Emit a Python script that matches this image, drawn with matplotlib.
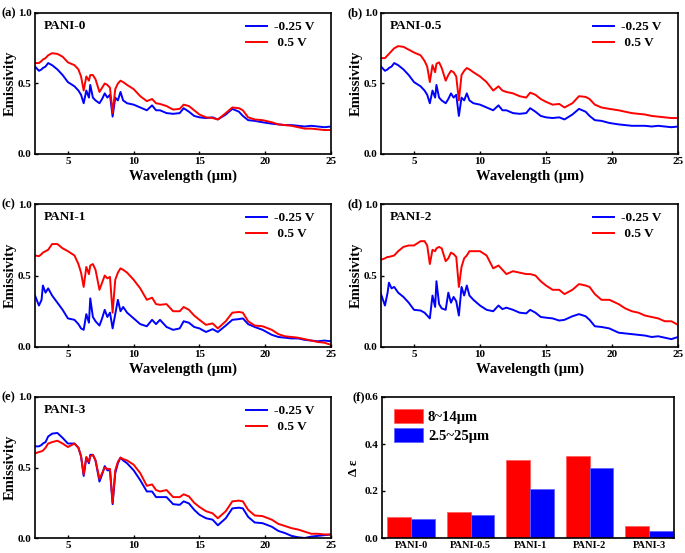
import matplotlib
matplotlib.use("Agg")
import matplotlib.pyplot as plt
import numpy as np

plt.rcParams['font.family'] = ['Liberation Serif', 'DejaVu Serif']
plt.rcParams['font.weight'] = 'bold'
plt.rcParams['axes.labelweight'] = 'bold'

# wavelength grid (um)
wl = [2.5, 2.8, 3.0, 3.1, 3.3, 3.5, 3.8, 4.2, 4.6, 5.0,
      5.5, 5.8, 6.0, 6.2, 6.4, 6.6, 6.7, 6.9, 7.1, 7.4,
      7.6, 7.8, 8.0, 8.2, 8.4, 8.6, 8.8, 9.0, 9.2, 9.5,
      10, 10.5, 11, 11.4, 11.7, 12, 12.5, 13, 13.5, 13.8,
      14.2, 14.6, 15, 15.5, 16, 16.4, 17, 17.5, 18, 18.3,
      18.7, 19.2, 19.8, 20.5, 21, 21.5, 22, 22.5, 23, 23.5,
      24, 24.5, 25]

# PANI-0
pani0_neg = [0.62, 0.59, 0.60, 0.61, 0.62, 0.645, 0.63, 0.60, 0.56, 0.51,
             0.48, 0.45, 0.42, 0.36, 0.45, 0.40, 0.49, 0.40, 0.38, 0.36,
             0.39, 0.43, 0.40, 0.42, 0.265, 0.40, 0.38, 0.44, 0.38, 0.36,
             0.35, 0.33, 0.31, 0.345, 0.31, 0.31, 0.29, 0.285, 0.29, 0.325,
             0.30, 0.27, 0.26, 0.255, 0.26, 0.245, 0.28, 0.32, 0.30, 0.27,
             0.24, 0.235, 0.225, 0.215, 0.21, 0.205, 0.205, 0.20, 0.195, 0.20,
             0.195, 0.19, 0.195]
pani0_pos = [0.645, 0.645, 0.66, 0.67, 0.68, 0.70, 0.715, 0.71, 0.69, 0.65,
             0.63, 0.60, 0.55, 0.45, 0.55, 0.52, 0.56, 0.56, 0.53, 0.44,
             0.47, 0.50, 0.49, 0.47, 0.29, 0.46, 0.50, 0.52, 0.51, 0.49,
             0.46, 0.41, 0.375, 0.39, 0.36, 0.355, 0.34, 0.315, 0.32, 0.35,
             0.34, 0.31, 0.28, 0.26, 0.255, 0.245, 0.29, 0.33, 0.325, 0.31,
             0.26, 0.245, 0.24, 0.225, 0.21, 0.205, 0.20, 0.19, 0.18, 0.18,
             0.175, 0.17, 0.17]

# PANI-0.5
pani05_neg = [0.62, 0.59, 0.60, 0.61, 0.62, 0.645, 0.63, 0.60, 0.56, 0.51,
              0.48, 0.45, 0.42, 0.36, 0.45, 0.40, 0.49, 0.40, 0.38, 0.36,
              0.39, 0.43, 0.40, 0.42, 0.27, 0.40, 0.38, 0.43, 0.38, 0.36,
              0.35, 0.33, 0.31, 0.345, 0.31, 0.31, 0.29, 0.285, 0.29, 0.325,
              0.30, 0.27, 0.26, 0.255, 0.26, 0.245, 0.28, 0.32, 0.30, 0.27,
              0.24, 0.235, 0.22, 0.21, 0.205, 0.20, 0.20, 0.20, 0.195, 0.20,
              0.195, 0.19, 0.195]
pani05_pos = [0.68, 0.68, 0.70, 0.71, 0.73, 0.75, 0.765, 0.76, 0.74, 0.72,
              0.70, 0.66, 0.62, 0.51, 0.63, 0.58, 0.64, 0.65, 0.61, 0.52,
              0.56, 0.59, 0.58, 0.55, 0.38, 0.56, 0.59, 0.61, 0.60, 0.58,
              0.55, 0.51, 0.45, 0.48, 0.45, 0.44, 0.43, 0.41, 0.40, 0.435,
              0.42, 0.39, 0.37, 0.35, 0.355, 0.33, 0.36, 0.41, 0.405, 0.39,
              0.35, 0.33, 0.32, 0.31, 0.30, 0.29, 0.285, 0.28, 0.27, 0.265,
              0.26, 0.255, 0.255]

# PANI-1
pani1_neg = [0.36, 0.29, 0.33, 0.43, 0.38, 0.41, 0.36, 0.31, 0.26, 0.20,
             0.19, 0.16, 0.13, 0.12, 0.23, 0.17, 0.34, 0.21, 0.18, 0.15,
             0.20, 0.26, 0.21, 0.24, 0.13, 0.23, 0.33, 0.25, 0.28, 0.24,
             0.20, 0.16, 0.145, 0.19, 0.16, 0.19, 0.14, 0.12, 0.13, 0.18,
             0.17, 0.14, 0.13, 0.105, 0.125, 0.105, 0.15, 0.19, 0.195, 0.20,
             0.16, 0.14, 0.12, 0.085, 0.07, 0.065, 0.06, 0.06, 0.05, 0.045,
             0.04, 0.045, 0.04]
pani1_pos = [0.64, 0.635, 0.65, 0.66, 0.67, 0.68, 0.72, 0.72, 0.69, 0.67,
             0.64, 0.58, 0.52, 0.42, 0.56, 0.51, 0.57, 0.58, 0.54, 0.40,
             0.45, 0.50, 0.48, 0.49, 0.24, 0.47, 0.52, 0.55, 0.54, 0.52,
             0.47, 0.41, 0.33, 0.345, 0.30, 0.295, 0.30, 0.25, 0.25, 0.28,
             0.26, 0.22, 0.19, 0.155, 0.165, 0.13, 0.18, 0.24, 0.245, 0.24,
             0.18, 0.15, 0.145, 0.12, 0.09, 0.075, 0.07, 0.065, 0.055, 0.045,
             0.035, 0.03, 0.015]

# PANI-2
pani2_neg = [0.37, 0.29, 0.38, 0.45, 0.41, 0.42, 0.38, 0.35, 0.31, 0.26,
             0.255, 0.24, 0.22, 0.20, 0.36, 0.28, 0.46, 0.30, 0.27, 0.26,
             0.38, 0.31, 0.35, 0.32, 0.22, 0.42, 0.36, 0.43, 0.36, 0.33,
             0.29, 0.26, 0.25, 0.29, 0.265, 0.275, 0.26, 0.24, 0.235, 0.26,
             0.24, 0.21, 0.205, 0.20, 0.185, 0.19, 0.215, 0.23, 0.215, 0.19,
             0.145, 0.14, 0.13, 0.10, 0.095, 0.09, 0.085, 0.08, 0.07, 0.075,
             0.065, 0.055, 0.07]
pani2_pos = [0.61, 0.62, 0.63, 0.63, 0.635, 0.64, 0.67, 0.70, 0.71, 0.71,
             0.74, 0.74, 0.71, 0.58, 0.68, 0.67, 0.69, 0.70, 0.69, 0.60,
             0.62, 0.66, 0.65, 0.63, 0.42, 0.56, 0.62, 0.64, 0.67, 0.67,
             0.67, 0.64, 0.55, 0.57, 0.54, 0.51, 0.53, 0.52, 0.51, 0.51,
             0.50, 0.46, 0.43, 0.40, 0.40, 0.37, 0.40, 0.44, 0.43, 0.42,
             0.37, 0.33, 0.33, 0.30, 0.27, 0.25, 0.24, 0.22, 0.21, 0.20,
             0.18, 0.18, 0.155]

# PANI-3
pani3_neg = [0.65, 0.65, 0.66, 0.67, 0.68, 0.72, 0.74, 0.745, 0.71, 0.67,
             0.67, 0.64, 0.58, 0.44, 0.57, 0.53, 0.59, 0.59, 0.55, 0.40,
             0.45, 0.51, 0.48, 0.48, 0.24, 0.46, 0.53, 0.57, 0.55, 0.53,
             0.48, 0.41, 0.33, 0.33, 0.29, 0.29, 0.29, 0.24, 0.235, 0.26,
             0.245, 0.20, 0.165, 0.14, 0.13, 0.09, 0.14, 0.21, 0.215, 0.21,
             0.15, 0.11, 0.105, 0.08, 0.05, 0.035, 0.015, 0.005, 0.0, 0.01,
             0.015, 0.02, 0.025]
pani3_pos = [0.60, 0.61, 0.615, 0.62, 0.64, 0.67, 0.68, 0.69, 0.67, 0.645,
             0.67, 0.64, 0.58, 0.45, 0.575, 0.54, 0.58, 0.59, 0.55, 0.42,
             0.46, 0.50, 0.49, 0.49, 0.25, 0.48, 0.54, 0.57, 0.56, 0.55,
             0.52, 0.46, 0.37, 0.38, 0.34, 0.33, 0.34, 0.29, 0.29, 0.31,
             0.295, 0.25, 0.22, 0.19, 0.175, 0.14, 0.19, 0.26, 0.265, 0.26,
             0.20, 0.16, 0.155, 0.13, 0.10, 0.085, 0.07, 0.06, 0.045, 0.03,
             0.03, 0.025, 0.025]

# panel (f)
samples = ['PANI-0', 'PANI-0.5', 'PANI-1', 'PANI-2', 'PANI-3']
d_8_14 = [0.09, 0.11, 0.33, 0.35, 0.05]
d_25_25 = [0.08, 0.10, 0.21, 0.30, 0.03]

W, H = 685, 553
fig = plt.figure(figsize=(6.85, 5.53), dpi=100)


def add_ax(l, t, r, b):
    return fig.add_axes([l / W, 1 - b / H, (r - l) / W, (b - t) / H])


def style(ax):
    for s in ax.spines.values():
        s.set_linewidth(1.2)
    ax.tick_params(direction='in', length=2.5, width=1, labelsize=8, pad=2.5)
    for lab in ax.get_xticklabels() + ax.get_yticklabels():
        lab.set_fontweight('bold')


panels = [
    ('(a)', 'PANI-0', pani0_neg, pani0_pos, (35, 13, 331, 154), 1, True),
    ('(b)', 'PANI-0.5', pani05_neg, pani05_pos, (381, 13, 678, 154), 348, True),
    ('(c)', 'PANI-1', pani1_neg, pani1_pos, (35, 204, 331, 347), 1, True),
    ('(d)', 'PANI-2', pani2_neg, pani2_pos, (381, 204, 678, 347), 348, True),
    ('(e)', 'PANI-3', pani3_neg, pani3_pos, (35, 397, 331, 538), 1, False),
]

for tag, name, neg, pos, box, tx, xlab in panels:
    ax = add_ax(*box)
    ax.plot(wl, neg, color='#0000ff', lw=1.4, label='-0.25 V')
    ax.plot(wl, pos, color='#ff0000', lw=1.4, label=' 0.5 V')
    ax.set_xlim(2.5, 25)
    ax.set_ylim(0, 1.0)
    ax.set_xticks([5, 10, 15, 20, 25])
    ax.set_yticks([0.0, 0.5, 1.0])
    ax.set_yticklabels(['0.0', '0.5', '1.0'])
    style(ax)
    ax.set_ylabel('Emissivity', fontsize=10.5, labelpad=1)
    if xlab:
        ax.set_xlabel('Wavelength (\u03bcm)', fontsize=10.5, labelpad=2)
    ax.text(0.03, 0.95, name, transform=ax.transAxes, fontsize=9.5,
            fontweight='bold', va='top')
    ax.legend(loc='upper right', frameon=False, fontsize=9.5, handlelength=1.6,
              handletextpad=0.5, labelspacing=0.3, borderaxespad=0.2,
              bbox_to_anchor=(0.97, 1.0))
    fig.text(tx / W, 1 - box[1] / H, tag, fontsize=9, fontweight='bold',
             va='center', ha='left')

# bar panel (f)
ax = add_ax(382, 397, 674, 538)
x = np.arange(len(samples))
bw = 0.4
ax.bar(x - bw / 2, d_8_14, bw, color='#ff0000', edgecolor='#ff6060',
       linewidth=0.6, label='8~14\u03bcm')
ax.bar(x + bw / 2, d_25_25, bw, color='#0000ff', edgecolor='#6060ff',
       linewidth=0.6, label='2.5~25\u03bcm')
ax.set_xlim(-0.49, 4.42)
ax.set_ylim(0, 0.6)
ax.set_yticks([0.0, 0.2, 0.4, 0.6])
ax.set_yticklabels(['0.0', '0.2', '0.4', '0.6'])
ax.set_xticks(x)
ax.set_xticklabels(samples)
style(ax)
ax.tick_params(axis='x', length=0, labelsize=7.5)
ax.set_ylabel('\u0394 \u03b5', fontsize=9.5, labelpad=3)
ax.legend(loc='upper left', frameon=False, fontsize=10.5, handlelength=2.0,
          handleheight=1.1, handletextpad=0.35, labelspacing=0.3,
          borderaxespad=0.4)
fig.text(353 / W, 1 - 397 / H, '(f)', fontsize=9, fontweight='bold',
         va='center', ha='left')

fig.savefig('out.png', dpi=100)
